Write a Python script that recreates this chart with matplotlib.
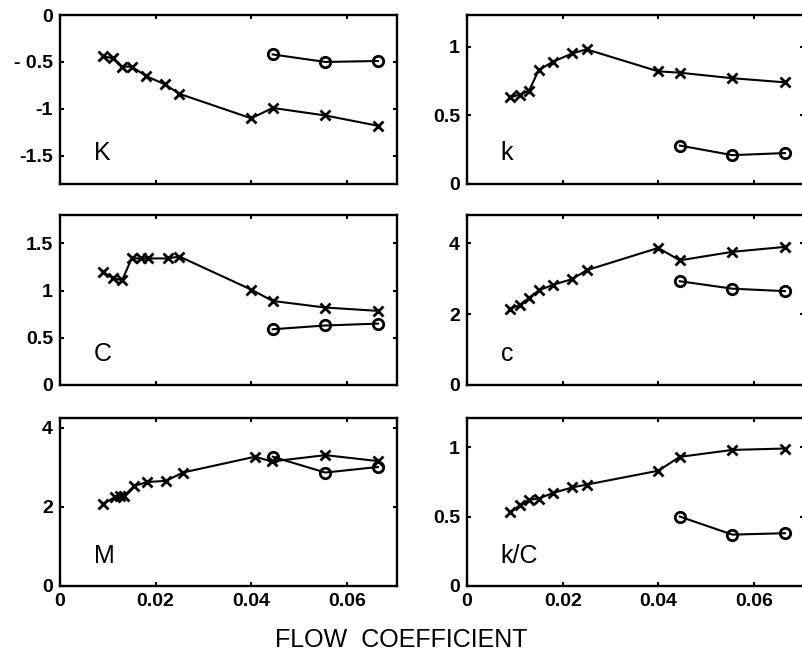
import matplotlib
matplotlib.use("Agg")
import matplotlib.pyplot as plt

plt.rcParams['font.family'] = ['Liberation Sans', 'DejaVu Sans']
plt.rcParams['axes.unicode_minus'] = False

# flow coefficient of the test points
x_main = [0.009, 0.011, 0.013, 0.015, 0.018, 0.022, 0.025, 0.040, 0.0445, 0.0555, 0.0665]
x_C = [0.009, 0.011, 0.013, 0.015, 0.017, 0.0185, 0.0225, 0.025, 0.040, 0.0445, 0.0555, 0.0665]
x_M = [0.009, 0.0115, 0.0125, 0.0134, 0.0155, 0.0183, 0.0222, 0.0257, 0.0408, 0.0443, 0.0555, 0.0665]
x_circ = [0.0445, 0.0555, 0.0665]

# x series (crosses)
K_x = [-0.44, -0.46, -0.55, -0.55, -0.65, -0.74, -0.84, -1.10, -0.99, -1.07, -1.18]
k_x = [0.63, 0.65, 0.68, 0.83, 0.89, 0.95, 0.98, 0.82, 0.81, 0.77, 0.74]
C_x = [1.20, 1.13, 1.11, 1.34, 1.34, 1.34, 1.34, 1.36, 1.01, 0.89, 0.82, 0.785]
c_x = [2.15, 2.25, 2.46, 2.67, 2.83, 2.99, 3.24, 3.87, 3.52, 3.76, 3.90]
M_x = [2.07, 2.25, 2.27, 2.28, 2.53, 2.63, 2.66, 2.87, 3.27, 3.15, 3.31, 3.16]
kC_x = [0.53, 0.58, 0.62, 0.63, 0.67, 0.71, 0.73, 0.83, 0.93, 0.98, 0.99]

# o series (circles)
K_o = [-0.42, -0.50, -0.49]
k_o = [0.28, 0.21, 0.225]
C_o = [0.59, 0.63, 0.65]
c_o = [2.93, 2.72, 2.65]
M_o = [3.27, 2.87, 3.01]
kC_o = [0.50, 0.37, 0.38]

panels = [
    # label, x for crosses, crosses, circles, ylim, yticks, position
    ('K', x_main, K_x, K_o, (-1.8, 0), [0, -0.5, -1, -1.5], [0.0747, 0.7229, 0.4197, 0.2545]),
    ('k', x_main, k_x, k_o, (0, 1.23), [0, 0.5, 1], [0.5816, 0.7229, 0.4197, 0.2545]),
    ('C', x_C, C_x, C_o, (0, 1.8), [0, 0.5, 1, 1.5], [0.0747, 0.4202, 0.4197, 0.256]),
    ('c', x_main, c_x, c_o, (0, 4.8), [0, 2, 4], [0.5816, 0.4202, 0.4197, 0.256]),
    ('M', x_M, M_x, M_o, (0, 4.25), [0, 2, 4], [0.0747, 0.1175, 0.4197, 0.253]),
    ('k/C', x_main, kC_x, kC_o, (0, 1.21), [0, 0.5, 1], [0.5816, 0.1175, 0.4197, 0.253]),
]
ylabels = {
    'K': ['0', '- 0.5', '-1', '-1.5'],
}

fig = plt.figure(figsize=(8.03, 6.64), dpi=100)

for i, (lab, xs, ys, yo, ylim, yt, pos) in enumerate(panels):
    ax = fig.add_axes(pos)
    ax.plot(xs, ys, color='black', lw=1.5, marker='x', ms=7, mew=2.0)
    ax.plot(x_circ, yo, color='black', lw=1.5, marker='o', ms=7.5, mew=2.0, mfc='none')
    ax.set_xlim(0, 0.0705)
    ax.set_ylim(*ylim)
    ax.set_xticks([0, 0.02, 0.04, 0.06])
    ax.set_yticks(yt)
    ax.set_yticklabels(ylabels.get(lab, [('%g' % v) for v in yt]))
    if i >= 4:
        ax.set_xticklabels(['0', '0.02', '0.04', '0.06'])
    else:
        ax.set_xticklabels([])
    ax.tick_params(direction='in', length=3, width=1.5, top=True, right=True,
                   labelsize=14, pad=5)
    for t in ax.get_xticklabels() + ax.get_yticklabels():
        t.set_fontweight('bold')
    for s in ax.spines.values():
        s.set_linewidth(1.7)
    ax.text(0.10, 0.11, lab, transform=ax.transAxes, fontsize=18, ha='left', va='bottom')

fig.text(0.5, 0.036, 'FLOW  COEFFICIENT', ha='center', va='center', fontsize=18)

fig.savefig('out.png', dpi=100)
